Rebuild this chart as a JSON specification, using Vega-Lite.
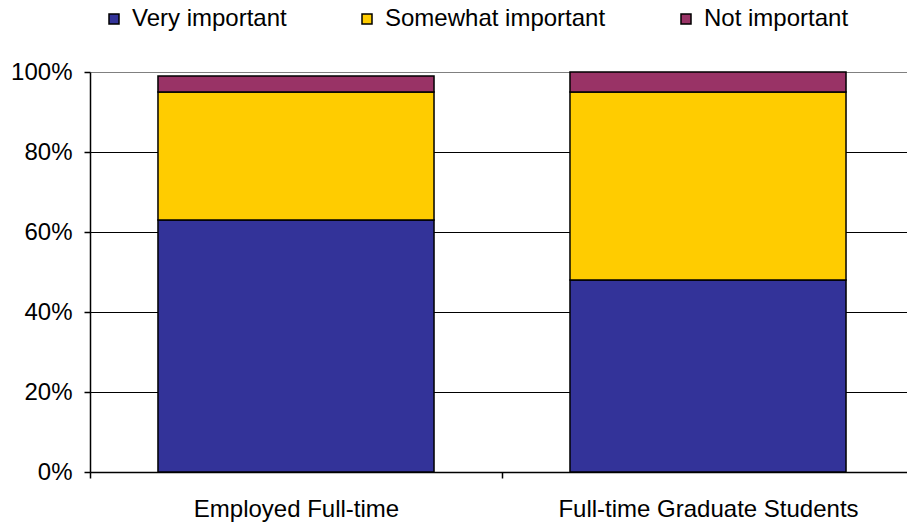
{
  "$schema": "https://vega.github.io/schema/vega-lite/v6.json",
  "autosize": "none",
  "width": 824,
  "height": 400,
  "padding": {"left": 90, "top": 72, "right": 0, "bottom": 50},
  "background": "white",
  "config": {"font": "Liberation Sans", "view": {"stroke": null}},
  "data": {"values": [
    {"group": "Employed Full-time", "response": "Very important", "ord": 1, "value": 63},
    {"group": "Employed Full-time", "response": "Somewhat important", "ord": 2, "value": 32},
    {"group": "Employed Full-time", "response": "Not important", "ord": 3, "value": 4},
    {"group": "Full-time Graduate Students", "response": "Very important", "ord": 1, "value": 48},
    {"group": "Full-time Graduate Students", "response": "Somewhat important", "ord": 2, "value": 47},
    {"group": "Full-time Graduate Students", "response": "Not important", "ord": 3, "value": 5}
  ]},
  "mark": {"type": "bar", "stroke": "black", "strokeWidth": 1.5, "width": {"band": 0.67}},
  "encoding": {
    "x": {
      "field": "group", "type": "nominal", "sort": null,
      "scale": {"paddingInner": 0, "paddingOuter": 0},
      "axis": {"title": null, "labelAngle": 0, "labelFontSize": 24, "labelColor": "black", "labelPadding": 19, "labelLimit": 500, "domainColor": "black", "domainWidth": 1.5, "tickColor": "black", "tickWidth": 1.5, "tickSize": 6, "tickBand": "extent", "ticks": true}
    },
    "y": {
      "field": "value", "type": "quantitative", "stack": "zero",
      "scale": {"domain": [0, 100], "nice": false},
      "axis": {"title": null, "values": [0, 20, 40, 60, 80, 100], "labelExpr": "datum.value + '%'", "labelFontSize": 24, "labelColor": "black", "labelPadding": 12, "domainColor": "black", "domainWidth": 1.5, "tickColor": "black", "tickWidth": 1.5, "tickSize": 6, "gridColor": {"condition": {"test": "datum.value === 100", "value": "#808080"}, "value": "black"}, "gridWidth": 1, "gridOpacity": 1}
    },
    "color": {
      "field": "response", "type": "nominal",
      "scale": {"domain": ["Very important", "Somewhat important", "Not important"], "range": ["#333399", "#FFCC00", "#993366"]},
      "legend": {"title": null, "orient": "none", "legendX": 12, "legendY": -65, "direction": "horizontal", "symbolType": "square", "symbolSize": 100, "symbolStrokeColor": "black", "symbolStrokeWidth": 1.5, "labelFontSize": 24, "labelColor": "black", "labelOffset": 6, "labelLimit": 500, "columnPadding": 68,
        "encode": {"symbols": {"update": {"stroke": {"value": "black"}, "strokeWidth": {"value": 1.5}}}}}
    },
    "order": {"field": "ord", "type": "quantitative"}
  }
}
